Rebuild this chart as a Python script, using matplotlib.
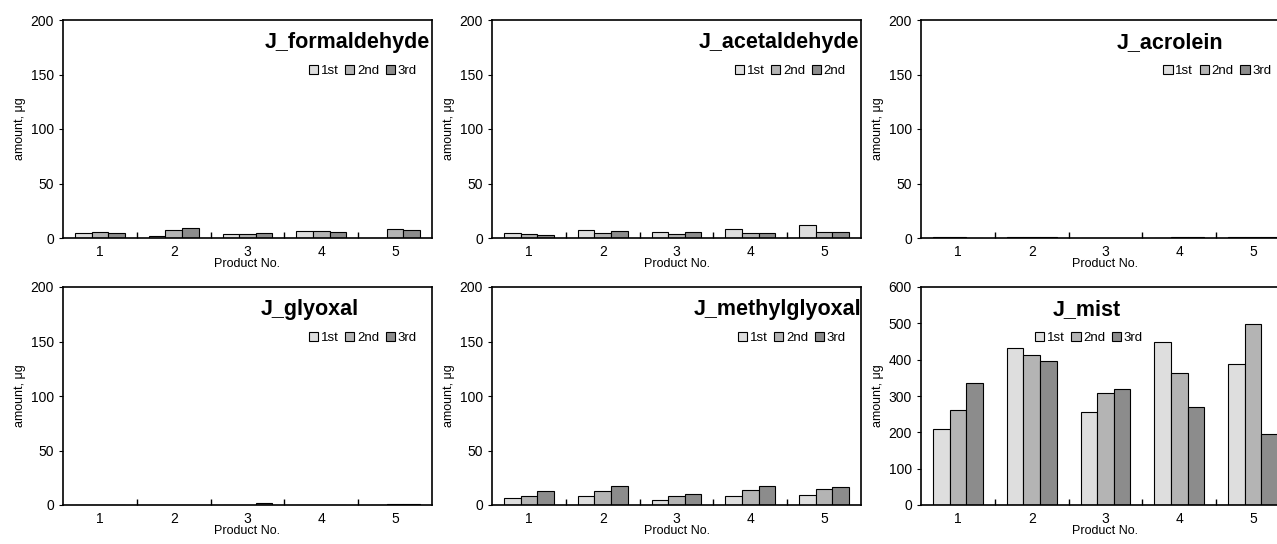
import numpy as np
import matplotlib
matplotlib.use("Agg")
import matplotlib.pyplot as plt

plt.rcParams['font.family'] = ['Liberation Sans', 'DejaVu Sans']

products = ['1', '2', '3', '4', '5']

# values (amount, ug)
formaldehyde = [[5.0, 1.5, 4.0, 6.0, 0.0],
                [5.5, 7.0, 3.5, 6.0, 8.5],
                [4.5, 8.8, 4.5, 5.5, 7.6]]
acetaldehyde = [[4.6, 7.6, 5.5, 8.3, 11.6],
                [3.7, 4.9, 3.7, 4.9, 5.5],
                [2.4, 6.7, 5.5, 4.9, 5.5]]
acrolein = [[1.0, 0.5, 0.3, 0.4, 1.0],
            [0.6, 0.6, 0.3, 0.6, 0.6],
            [0.4, 0.5, 0.3, 0.5, 0.5]]
glyoxal = [[0.2, 0.3, 0.3, 0.3, 0.3],
           [0.2, 0.3, 0.4, 0.4, 0.6],
           [0.2, 0.3, 1.6, 0.4, 0.5]]
methylglyoxal = [[6.7, 8.5, 4.9, 8.2, 9.1],
                 [8.5, 12.8, 7.9, 13.7, 14.3],
                 [12.8, 17.6, 10.0, 17.0, 16.1]]
mist = [[210, 433, 257, 448, 388],
        [262, 412, 307, 362, 497],
        [335, 396, 320, 270, 195]]

titles = ['J_formaldehyde', 'J_acetaldehyde', 'J_acrolein',
          'J_glyoxal', 'J_methylglyoxal', 'J_mist']
series = [formaldehyde, acetaldehyde, acrolein, glyoxal, methylglyoxal, mist]
labels = [['1st', '2nd', '3rd'], ['1st', '2nd', '2nd'], ['1st', '2nd', '3rd'],
          ['1st', '2nd', '3rd'], ['1st', '2nd', '3rd'], ['1st', '2nd', '3rd']]
ymax = [200, 200, 200, 200, 200, 600]

colors = ['#dedede', '#b4b4b4', '#8c8c8c']

W, H = 1277, 544
fig = plt.figure(figsize=(W / 100, H / 100), dpi=100)

lefts = [63, 492, 921]
tops = [20, 287]
aw, ah = 369, 218

# title x (axes frac) and alignment, legend anchor x and loc
title_pos = [(0.995, 'right'), (0.995, 'right'), (0.675, 'center'),
             (0.67, 'center'), (1.0, 'right'), (0.45, 'center')]
leg_pos = [(0.962, 'upper right'), (0.962, 'upper right'), (0.953, 'upper right'),
           (0.962, 'upper right'), (0.962, 'upper right'), (0.455, 'upper center')]

x = np.arange(len(products))
bw = 0.225

for i in range(6):
    r, c = divmod(i, 3)
    ax = fig.add_axes([lefts[c] / W, 1 - (tops[r] + ah) / H, aw / W, ah / H])
    data = series[i]
    for k in range(3):
        ax.bar(x + (k - 1) * bw, data[k], width=bw, color=colors[k],
               edgecolor='black', linewidth=0.8, label=labels[i][k])
    ax.set_xlim(-0.5, 4.5)
    ax.set_ylim(0, ymax[i])
    if ymax[i] == 600:
        ax.set_yticks(np.arange(0, 601, 100))
    else:
        ax.set_yticks(np.arange(0, 201, 50))
    ax.set_xticks(x)
    ax.set_xticklabels(products)
    ax.set_xticks(np.arange(0.5, 4.5, 1), minor=True)
    ax.tick_params(axis='x', which='major', length=0, labelsize=10, pad=5)
    ax.tick_params(axis='x', which='minor', direction='in', length=4, width=1)
    ax.tick_params(axis='y', direction='out', length=3, labelsize=10)
    for s in ax.spines.values():
        s.set_linewidth(1.2)
    ax.set_ylabel('amount, \u03bcg', fontsize=9, labelpad=3)
    ax.set_xlabel('Product No.', fontsize=9, labelpad=-1)

    tx, ha = title_pos[i]
    ax.text(tx, 0.895, titles[i], transform=ax.transAxes, ha=ha, va='center',
            fontsize=15.5, fontweight='bold', clip_on=False)
    lx, loc = leg_pos[i]
    ax.legend(loc=loc, bbox_to_anchor=(lx, 0.80), ncol=3, frameon=False,
              fontsize=9.5, handlelength=0.7, handleheight=0.7,
              handletextpad=0.2, columnspacing=0.5, borderpad=0.1,
              borderaxespad=0)

fig.savefig('out.png', dpi=100)
